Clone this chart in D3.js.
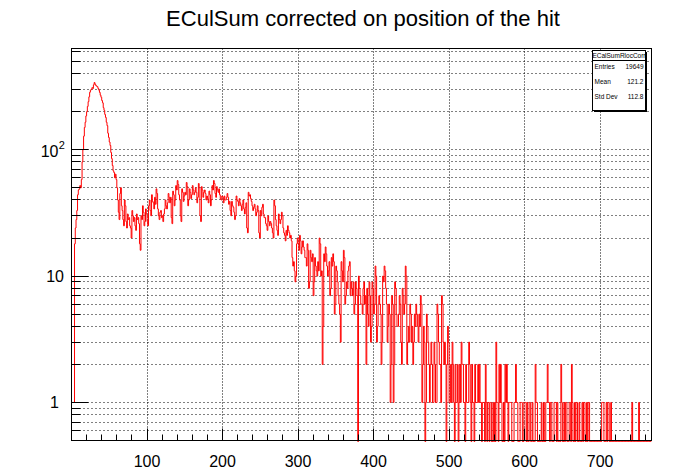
<!DOCTYPE html>
<html><head><meta charset="utf-8">
<script src="https://cdn.jsdelivr.net/npm/d3@7"></script>
<style>body{margin:0;background:#fff}svg{display:block}</style>
</head><body>
<svg id="c" width="692" height="471"></svg>
<script>
const chartTitle = "ECulSum corrected on position of the hit";
const binLow = 0, binHigh = 768;
const counts = [
1,1,1,1,18,24,28,33,44,48,49,52,50,58,80,100,128,150,165,185,
200,220,240,262,285,296,300,310,305,326,340,330,322,318,315,305,296,284,270,260,
245,235,215,205,190,180,165,155,135,125,115,108,95,85,75,68,66,60,64,58,
50,40,32,28,45,50,36,33,28,25,40,36,27,24,31,28,29,25,24,20,
33,30,27,29,25,23,31,28,29,26,18,16,30,28,36,32,25,27,34,31,
27,25,36,40,33,30,44,39,38,34,42,37,49,45,34,30,28,32,33,29,
30,27,31,34,40,36,34,38,45,42,38,42,29,26,47,44,36,40,52,48,
57,53,44,40,30,27,49,46,39,43,46,44,55,51,36,40,49,46,41,44,
52,48,44,46,50,46,38,42,54,50,30,27,51,48,42,46,48,45,40,43,
41,38,47,44,36,40,52,48,57,54,45,42,51,48,46,49,44,41,40,43,
42,38,43,40,40,42,45,42,37,39,33,30,39,36,35,32,28,30,43,40,
39,36,41,38,36,33,37,40,34,31,35,38,24,22,46,43,44,41,39,36,
33,35,37,34,30,32,36,33,22,20,33,30,35,37,31,29,29,26,25,23,
30,27,25,27,26,24,22,20,40,36,28,25,23,21,31,28,26,28,32,30,
24,22,21,19,23,21,25,23,22,20,21,19,14,12,13,11,9,10,18,20,
18,16,21,19,15,17,19,17,16,14,14,12,18,16,8,9,16,14,13,15,
7,9,14,12,11,10,13,11,20,18,10,11,2,4,15,13,17,15,12,10,
11,13,7,8,14,12,15,13,5,6,12,11,9,7,6,5,3,13,11,9,
16,14,6,7,9,8,11,12,13,7,9,8,7,9,5,6,9,8,7,0,
10,8,7,6,6,5,8,9,6,7,2,8,5,4,9,7,3,4,9,8,
5,6,12,10,3,4,6,7,6,5,2,3,10,9,12,11,8,6,3,4,
6,5,1,2,7,6,1,2,9,8,5,4,4,5,7,6,3,2,8,7,
5,6,12,10,2,3,4,3,6,5,3,4,2,3,5,4,6,5,4,3,
5,4,7,6,1,2,4,3,0,1,5,4,3,2,1,2,3,2,1,1,
3,2,1,1,6,5,3,2,2,1,7,6,3,2,3,2,0,2,4,3,
1,1,2,1,3,2,1,0,2,1,1,2,0,1,2,1,3,2,2,1,
1,0,2,1,1,1,3,2,1,0,2,1,1,0,2,1,1,1,2,1,
2,1,1,0,1,1,1,0,2,1,0,1,1,0,1,1,0,0,1,0,
1,0,3,1,1,0,2,1,2,1,0,0,1,0,2,1,2,1,0,1,
1,1,1,0,0,0,1,1,2,1,1,0,0,0,1,1,1,0,0,1,
1,1,0,1,0,0,1,1,0,0,1,0,0,0,2,1,1,0,0,0,
0,0,1,0,0,1,0,0,1,1,2,1,1,0,1,1,0,0,0,1,
1,1,0,1,0,0,0,0,2,1,0,0,1,0,1,1,0,0,0,1,
1,0,2,1,0,0,1,0,1,1,0,0,1,0,0,0,1,0,1,1,
0,0,1,0,1,1,0,0,0,0,0,0,0,0,0,0,0,0,0,0,
0,0,1,1,1,0,0,0,1,0,1,1,0,0,1,0,0,0,0,0,
0,0,0,0,0,0,0,0,0,0,0,0,0,0,0,0,0,0,0,0,
0,0,1,0,0,0,0,0,0,0,0,1,0,0,0,0,0,0,0,0,
0,0,0,0,0,0,0,0
];
const xTickLabels = ["100","200","300","400","500","600","700"];
const yDecades = [1,10,100];
const yMinorTicks = [0.6,0.7,0.8,0.9,2,3,4,5,6,7,8,9,20,30,40,50,60,70,80,90,200,300,400,500,600];
const statsName = "ECalSumRlocCorr";
const statsLabels = ["Entries","Mean","Std Dev"];
const statsValues = ["19649","121.2","112.8"];

const L = 71.5, R = 651.5, T = 48.5, B = 440.5;
const svg = d3.select("#c");
const font = "'Liberation Sans', Arial, Helvetica, sans-serif";

const x = d3.scaleLinear().domain([binLow, binHigh]).range([L, R]);
const y = d3.scaleLog().domain([0.5, 632]).range([B, T]);
const snap = v => Math.round(v - 0.5) + 0.5;

// title
svg.append("text").attr("x", 363).attr("y", 26).attr("text-anchor", "middle")
  .attr("font-family", font).attr("font-size", 22).attr("fill", "#000").text(chartTitle);

// grid
const grid = svg.append("g").attr("stroke", "#000").attr("stroke-width", 1).attr("fill", "none");
xTickLabels.forEach(t => {
  const px = snap(x(+t));
  grid.append("line").attr("x1", px).attr("x2", px).attr("y1", T).attr("y2", B)
    .attr("stroke-dasharray", "1,2");
});
yDecades.concat(yMinorTicks).forEach(v => {
  const py = snap(y(v));
  grid.append("line").attr("x1", L).attr("x2", R).attr("y1", py).attr("y2", py)
    .attr("stroke-dasharray", "1,3");
});

// histogram
svg.append("clipPath").attr("id", "clip").append("rect")
  .attr("x", L).attr("y", T).attr("width", R - L).attr("height", B - T + 2);
const pts = counts.map((c, i) => [binLow + i, c]);
pts.push([binHigh, counts[counts.length - 1]]);
const line = d3.line()
  .x(d => x(d[0]))
  .y(d => d[1] > 0 ? y(d[1]) : B + 1)
  .curve(d3.curveStepAfter);
svg.append("path").attr("clip-path", "url(#clip)").attr("d", line(pts))
  .attr("fill", "none").attr("stroke", "#ff0000").attr("stroke-width", 1);

// frame
svg.append("rect").attr("x", L).attr("y", T).attr("width", R - L).attr("height", B - T)
  .attr("fill", "none").attr("stroke", "#000").attr("stroke-width", 1);

// x ticks
const ax = svg.append("g").attr("stroke", "#000").attr("stroke-width", 1);
d3.range(binLow, binHigh, 20).forEach(v => {
  const px = snap(x(v));
  const major = v % 100 === 0;
  ax.append("line").attr("x1", px).attr("x2", px).attr("y1", B).attr("y2", B - (major ? 12 : 6));
});
svg.append("g").selectAll("text").data(xTickLabels).join("text")
  .attr("x", d => x(+d)).attr("y", 467).attr("text-anchor", "middle")
  .attr("font-family", font).attr("font-size", 16).attr("fill", "#000").text(d => d);

// y ticks
yDecades.forEach(v => {
  const py = snap(y(v));
  ax.append("line").attr("x1", L).attr("x2", L + 17).attr("y1", py).attr("y2", py);
});
yMinorTicks.forEach(v => {
  const py = snap(y(v));
  ax.append("line").attr("x1", L).attr("x2", L + 9).attr("y1", py).attr("y2", py);
});
const ylab = svg.append("g").attr("font-family", font).attr("fill", "#000");
ylab.append("text").attr("x", 59).attr("y", y(1) + 6).attr("text-anchor", "end")
  .attr("font-size", 16).text("1");
ylab.append("text").attr("x", 64).attr("y", y(10) + 6).attr("text-anchor", "end")
  .attr("font-size", 16).text("10");
ylab.append("text").attr("x", 58.5).attr("y", y(100) + 7).attr("text-anchor", "end")
  .attr("font-size", 16).text("10");
ylab.append("text").attr("x", 58.8).attr("y", y(100) - 0.5).attr("font-size", 11).text("2");

// stats box
const sx = 592.5, sy = 50.5, sw = 53, sh = 60;
svg.append("rect").attr("x", sx + 1.5).attr("y", sy + 1.5).attr("width", sw).attr("height", sh).attr("fill", "#000");
svg.append("rect").attr("x", sx).attr("y", sy).attr("width", sw).attr("height", sh)
  .attr("fill", "#fff").attr("stroke", "#000").attr("stroke-width", 1);
svg.append("line").attr("x1", sx).attr("x2", sx + sw).attr("y1", 60.5).attr("y2", 60.5)
  .attr("stroke", "#000").attr("stroke-width", 1);
const st = svg.append("g").attr("font-family", font).attr("font-size", 6.5).attr("fill", "#000");
st.append("text").attr("x", sx + sw / 2).attr("y", 58).attr("text-anchor", "middle").text(statsName);
const rowY = [69, 84, 99];
statsLabels.forEach((lab, i) => {
  st.append("text").attr("x", 594.5).attr("y", rowY[i]).text(lab);
  st.append("text").attr("x", 643.5).attr("y", rowY[i]).attr("text-anchor", "end").text(statsValues[i]);
});
</script>
</body></html>
